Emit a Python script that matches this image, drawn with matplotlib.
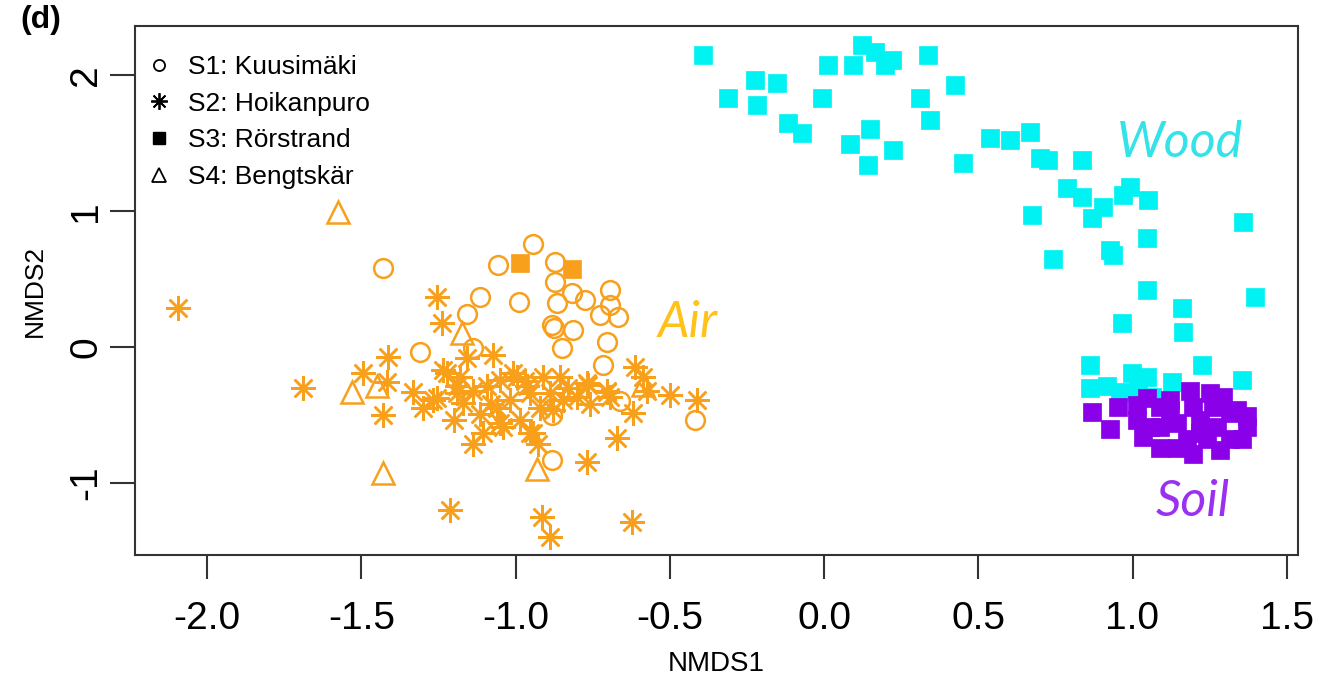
import matplotlib
matplotlib.use("Agg")
import matplotlib.pyplot as plt
from matplotlib.lines import Line2D

plt.rcParams['font.family'] = ['Liberation Sans', 'DejaVu Sans']
plt.rcParams['axes.unicode_minus'] = False

# ---------------- data ----------------
# Air samples, S1: Kuusimaki (open circles)
s1_x = [-1.43, -1.31, -1.115, -0.99, -1.157, -1.138, -0.943, -1.057, -0.872, -0.872,
        -0.817, -0.866, -0.775, -0.694, -0.726, -0.694, -0.668, -0.882, -0.875, -0.814,
        -0.703, -0.85, -0.716, -0.418, -0.882, -0.661, -0.882]
s1_y = [0.58, -0.04, 0.37, 0.33, 0.24, -0.01, 0.76, 0.60, 0.625, 0.48,
        0.40, 0.32, 0.345, 0.42, 0.235, 0.31, 0.22, 0.16, 0.14, 0.125,
        0.04, -0.01, -0.13, -0.54, -0.83, -0.40, -0.50]

# Air samples, S2: Hoikanpuro (asterisks)
s2_x = [-2.094, -1.413, -1.689, -1.494, -1.417, -1.43, -1.332, -1.254, -1.238, -1.073,
        -1.157, -1.254, -1.235, -1.19, -1.138, -1.17, -1.115, -1.20, -1.138, -1.05,
        -1.008, -0.963, -1.018, -0.985, -1.04, -0.943, -1.105, -0.613, -0.587, -0.574,
        -0.50, -0.412, -0.619, -0.671, -0.768, -0.927, -0.953, -1.212, -0.914, -0.888,
        -0.622, -0.995, -0.911, -0.856, -0.768, -0.703, -0.953, -0.888, -0.846, -0.80,
        -0.694, -0.878, -1.05, -1.267, -1.19, -1.092, -1.18, -1.222, -0.765, -0.703,
        -1.30, -1.08, -0.92, -0.76, -1.06, -0.97, -0.83]
s2_y = [0.29, -0.07, -0.30, -0.19, -0.26, -0.50, -0.33, 0.37, 0.18, -0.06,
        -0.08, -0.375, -0.17, -0.29, -0.32, -0.41, -0.49, -0.54, -0.71, -0.24,
        -0.19, -0.29, -0.39, -0.54, -0.59, -0.63, -0.63, -0.15, -0.22, -0.32,
        -0.35, -0.39, -0.485, -0.67, -0.845, -0.71, -0.63, -1.20, -1.25, -1.40,
        -1.29, -0.22, -0.22, -0.22, -0.265, -0.32, -0.34, -0.34, -0.39, -0.37,
        -0.37, -0.46, -0.56, -0.39, -0.34, -0.29, -0.22, -0.19, -0.28, -0.33,
        -0.45, -0.42, -0.45, -0.42, -0.45, -0.25, -0.30]

# Air samples, S3: Rorstrand (filled squares)
s3_x = [-0.985, -0.817]
s3_y = [0.62, 0.57]

# Air samples, S4: Bengtskar (open triangles)
s4_x = [-1.575, -1.53, -1.449, -1.43, -1.173, -0.587, -0.93]
s4_y = [0.99, -0.33, -0.29, -0.93, 0.10, -0.28, -0.90]

# Wood samples (cyan squares)
wood_x = [-0.392, 0.013, 0.094, 0.123, 0.165, 0.22, 0.198, 0.337, -0.224, -0.152,
          -0.311, -0.217, -0.006, 0.425, 0.311, 0.344, -0.117, -0.071, 0.149, 0.084,
          0.224, 0.143, 0.45, 0.538, 0.603, 0.668, 0.70, 0.726, 0.836, 0.788,
          0.836, 0.904, 0.869, 0.969, 0.992, 1.05, 0.674, 1.358, 1.047, 0.927,
          0.937, 0.742, 1.047, 1.397, 1.16, 0.966, 1.164, 0.862, 1.225, 1.355,
          0.862, 0.917, 0.998, 1.047, 0.96, 1.018, 1.063, 1.128]
wood_y = [2.15, 2.07, 2.07, 2.22, 2.17, 2.11, 2.07, 2.15, 1.96, 1.94,
          1.83, 1.78, 1.83, 1.93, 1.83, 1.67, 1.65, 1.57, 1.60, 1.49,
          1.45, 1.34, 1.35, 1.54, 1.52, 1.58, 1.39, 1.375, 1.375, 1.17,
          1.10, 1.03, 0.95, 1.12, 1.18, 1.08, 0.97, 0.92, 0.80, 0.71,
          0.68, 0.65, 0.42, 0.37, 0.29, 0.18, 0.11, -0.13, -0.13, -0.24,
          -0.30, -0.29, -0.19, -0.22, -0.33, -0.32, -0.37, -0.26]

# Soil samples (purple squares)
soil_x = [0.869, 0.927, 0.953, 1.015, 1.015, 1.034, 1.089, 1.12, 1.186, 1.196,
          1.251, 1.293, 1.339, 1.371, 1.355, 1.284, 1.089, 1.144, 1.219, 1.274,
          1.177, 1.242, 1.316, 1.057, 1.144, 1.12, 1.047, 1.316, 1.261, 1.196,
          1.219, 1.089, 1.371]
soil_y = [-0.48, -0.60, -0.44, -0.43, -0.54, -0.66, -0.74, -0.39, -0.32, -0.79,
          -0.34, -0.37, -0.46, -0.59, -0.68, -0.76, -0.44, -0.56, -0.54, -0.59,
          -0.68, -0.68, -0.68, -0.59, -0.74, -0.47, -0.375, -0.485, -0.44, -0.44,
          -0.63, -0.59, -0.51]

# group labels written inside the plot
group_names = ["Air", "Wood", "Soil"]
group_x = [-0.441, 1.154, 1.196]
group_y = [0.18, 1.50, -1.14]

legend_labels = ["S1: Kuusimäki", "S2: Hoikanpuro", "S3: Rörstrand", "S4: Bengtskär"]

xticks = [-2.0, -1.5, -1.0, -0.5, 0.0, 0.5, 1.0, 1.5]
yticks = [-1, 0, 1, 2]

# ---------------- styling ----------------
ORANGE = "#F8A01C"
CYAN = "#00F2F2"
PURPLE = "#8A00E8"
AIR_TXT = "#FFC21A"
WOOD_TXT = "#33E3E8"
SOIL_TXT = "#9A30F0"
ASTER = (8, 2, 0)

fig = plt.figure(figsize=(13.2, 6.8), dpi=100)
W, H = 1320, 680
L, R, T, B = 135, 1298, 26, 555
ax = fig.add_axes([L / W, (H - B) / H, (R - L) / W, (B - T) / H])

ax.plot(wood_x, wood_y, ls="none", marker="s", ms=13, mfc=CYAN, mec=CYAN, mew=0.5)
ax.plot(soil_x, soil_y, ls="none", marker="s", ms=13, mfc=PURPLE, mec=PURPLE, mew=0.5)
ax.plot(s2_x, s2_y, ls="none", marker=ASTER, ms=18, mec=ORANGE, mew=1.8)
ax.plot(s1_x, s1_y, ls="none", marker="o", ms=13.5, mfc="none", mec=ORANGE, mew=1.8)
ax.plot(s3_x, s3_y, ls="none", marker="s", ms=12.5, mfc=ORANGE, mec=ORANGE, mew=0.5)
ax.plot(s4_x, s4_y, ls="none", marker="^", ms=16, mfc="none", mec=ORANGE, mew=1.8)

colors = [AIR_TXT, WOOD_TXT, SOIL_TXT]
for name, gx, gy, c in zip(group_names, group_x, group_y, colors):
    ax.text(gx, gy, name, color=c, fontsize=36, style="italic",
            family=["Lato", "DejaVu Sans"], ha="center", va="center")

ax.set_xlim((L - 824) / 308.5, (R - 824) / 308.5)
ax.set_ylim((347 - B) / 136.0, (347 - T) / 136.0)
ax.set_xticks(xticks)
ax.set_xticklabels([f"{v:.1f}" for v in xticks])
ax.set_yticks(yticks)
ax.set_yticklabels([str(v) for v in yticks])

for sp in ax.spines.values():
    sp.set_linewidth(1.5)
    sp.set_color("#333333")
ax.tick_params(axis="x", direction="out", length=17, width=1.5, color="#333333",
               labelsize=28, pad=16)
ax.tick_params(axis="y", direction="out", length=18, width=1.5, color="#333333",
               labelsize=28, pad=4, labelrotation=90)
for lab in ax.get_yticklabels():
    lab.set_va("center")

ax.set_xlabel("NMDS1", fontsize=20)
ax.xaxis.set_label_coords(0.5, (B - 664) / (B - T))
ax.xaxis.label.set_va("center")
ax.set_ylabel("NMDS2", fontsize=19)
ax.yaxis.set_label_coords((35 - L) / (R - L), 0.5)
ax.yaxis.label.set_va("center")

handles = [
    Line2D([], [], ls="none", marker="o", ms=8, mfc="none", mec="black", mew=1.3),
    Line2D([], [], ls="none", marker=ASTER, ms=12, mec="black", mew=1.3),
    Line2D([], [], ls="none", marker="s", ms=8, mfc="black", mec="black"),
    Line2D([], [], ls="none", marker="^", ms=10, mfc="none", mec="black", mew=1.3),
]
ax.legend(handles, legend_labels, loc="upper left", frameon=False,
          bbox_to_anchor=(146 / W, (H - 55) / H), bbox_transform=fig.transFigure,
          fontsize=19, handlelength=0.95, handletextpad=0.65, labelspacing=0.48,
          borderpad=0, borderaxespad=0)

fig.text(20 / W, (H - 20) / H, "(d)", fontsize=23, fontweight="bold", va="center", ha="left")

fig.savefig("out.png", dpi=100)
